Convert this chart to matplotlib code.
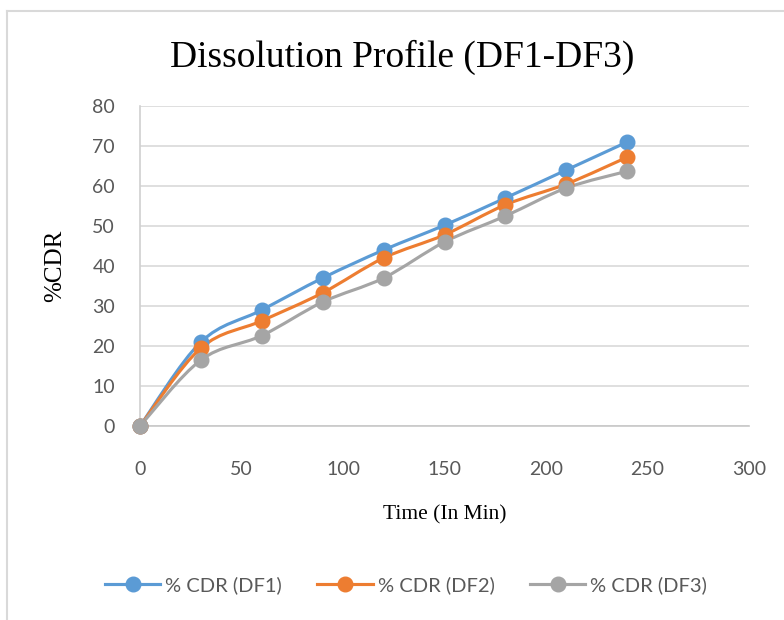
import numpy as np
import matplotlib.pyplot as plt
from matplotlib.path import Path
from matplotlib.patches import PathPatch
from matplotlib.lines import Line2D

time_min = [0, 30, 60, 90, 120, 150, 180, 210, 240]
cdr_df1 = [0, 21.0, 29.0, 37.0, 44.0, 50.2, 57.0, 64.0, 71.0]
cdr_df2 = [0, 19.5, 26.3, 33.3, 42.0, 47.8, 55.3, 60.5, 67.2]
cdr_df3 = [0, 16.5, 22.6, 31.0, 37.0, 46.0, 52.5, 59.5, 63.7]
labels = ["% CDR (DF1)", "% CDR (DF2)", "% CDR (DF3)"]
colors = ["#5B9BD5", "#ED7D31", "#A5A5A5"]

serif = ["Liberation Serif", "DejaVu Serif"]
sans = ["Lato", "DejaVu Sans"]


def smooth_path(x, y, t=1 / 6):
    # Excel-like smoothed line: cubic bezier segments through the data points
    pts = np.column_stack([x, y]).astype(float)
    verts = [pts[0]]
    codes = [Path.MOVETO]
    n = len(pts)
    for i in range(n - 1):
        p0 = pts[max(i - 1, 0)]
        p1 = pts[i]
        p2 = pts[i + 1]
        p3 = pts[min(i + 2, n - 1)]
        c1 = p1 + (p2 - p0) * t
        c2 = p2 - (p3 - p1) * t
        verts += [c1, c2, p2]
        codes += [Path.CURVE4] * 3
    return Path(verts, codes)


fig = plt.figure(figsize=(7.84, 6.2), dpi=100)
ax = fig.add_axes([140 / 784, 1 - 426 / 620, 609 / 784, 320 / 620])

for yv, lab, col in zip([cdr_df1, cdr_df2, cdr_df3], labels, colors):
    patch = PathPatch(smooth_path(time_min, yv), facecolor="none",
                      edgecolor=col, lw=2.25, transform=ax.transData,
                      capstyle="round", joinstyle="round", zorder=3)
    ax.add_patch(patch)
    ax.plot(time_min, yv, "o", color=col, ms=10.5, zorder=4, clip_on=False)

ax.set_xlim(0, 300)
ax.set_ylim(0, 80)
ax.set_xticks(range(0, 301, 50))
ax.set_yticks(range(0, 81, 10))
ax.grid(axis="y", color="#d9d9d9", lw=1.2)
ax.set_axisbelow(True)
for s in ["top", "right"]:
    ax.spines[s].set_visible(False)
ax.spines["left"].set_color("#d0d0d0")
ax.spines["bottom"].set_color("#c8c8c8")
ax.spines["left"].set_linewidth(1.2)
ax.spines["bottom"].set_linewidth(1.2)
ax.tick_params(length=0, labelsize=14, labelcolor="#595959")
ax.tick_params(axis="x", pad=25)
ax.tick_params(axis="y", pad=18)
for lbl in ax.get_xticklabels() + ax.get_yticklabels():
    lbl.set_family(sans)

ax.set_xlabel("Time (In Min)", family=serif, fontsize=15.5, labelpad=20)
ax.set_ylabel("%CDR", family=serif, fontsize=18, labelpad=19)
fig.text(0.513, 1 - 57 / 620, "Dissolution Profile (DF1-DF3)", family=serif,
         fontsize=27, ha="center", va="center")

handles = [Line2D([], [], color=c, lw=2.25, marker="o", ms=10.5) for c in colors]
fig.legend(handles, labels, loc="center", bbox_to_anchor=(0.518, 1 - 585 / 620),
           ncol=3, frameon=False, prop={"family": sans, "size": 14.5},
           labelcolor="#595959", handlelength=2.75, handletextpad=0.25,
           columnspacing=1.75)

# chart area border
fig.add_artist(Line2D([7 / 784, 7 / 784], [0, 1 - 11 / 620], color="#d9d9d9",
                      lw=1.5, transform=fig.transFigure))
fig.add_artist(Line2D([7 / 784, 1], [1 - 11 / 620, 1 - 11 / 620], color="#d9d9d9",
                      lw=1.5, transform=fig.transFigure))

fig.savefig("out.png", dpi=100)
